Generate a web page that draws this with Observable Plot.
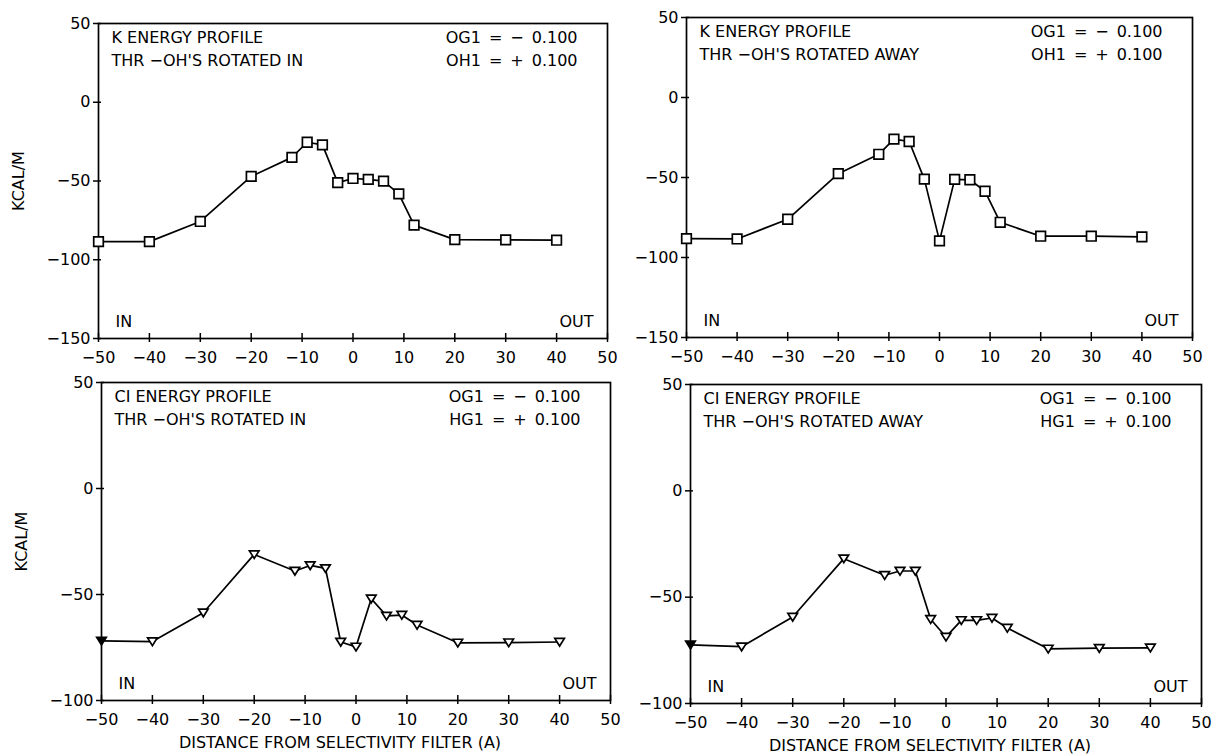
<!DOCTYPE html>
<html><head><meta charset="utf-8">
<script src="https://cdn.jsdelivr.net/npm/d3@7"></script>
<script src="https://cdn.jsdelivr.net/npm/@observablehq/plot@0.6"></script>
<style>
body{margin:0;background:#fff;}
#wrap{position:relative;width:1212px;height:756px;overflow:hidden;background:#fff;}
#wrap svg{position:absolute;}
</style></head><body><div id="wrap"></div>
<script>
// ---- data ----
const distance = [-50, -40, -30, -20, -12, -9, -6, -3, 0, 3, 6, 9, 12, 20, 30, 40];
const kRotatedIn   = [-88.5, -88.5, -75.7, -47.1, -35.0, -25.4, -27.1, -51.0, -48.4, -49.0, -50.1, -58.2, -78.0, -87.2, -87.4, -87.6];
const kRotatedAway = [-88.2, -88.4, -76.1, -47.6, -35.5, -26.0, -27.5, -51.0, -89.6, -51.2, -51.4, -58.6, -78.0, -86.7, -86.7, -87.1];
const clRotatedIn  = [-71.9, -72.2, -58.6, -31.1, -38.9, -36.3, -37.7, -72.4, -74.7, -52.0, -60.1, -59.7, -64.4, -72.8, -72.7, -72.4];
const clRotatedAway= [-72.4, -73.3, -59.3, -31.9, -39.7, -37.7, -37.7, -60.4, -68.7, -60.9, -60.9, -59.8, -64.5, -74.3, -74.0, -73.8];

const xTicks = [-50, -40, -30, -20, -10, 0, 10, 20, 30, 40, 50];
const yTicksK = [50, 0, -50, -100, -150];
const yTicksCl = [50, 0, -50, -100];

const titlesLeft = [
  ["K ENERGY PROFILE", "THR \u2212OH'S ROTATED IN"],
  ["K ENERGY PROFILE", "THR \u2212OH'S ROTATED AWAY"],
  ["CI ENERGY PROFILE", "THR \u2212OH'S ROTATED IN"],
  ["CI ENERGY PROFILE", "THR \u2212OH'S ROTATED AWAY"]
];
const titlesRight = [
  ["OG1\u2002=\u2002\u2212\u20020.100", "OH1\u2002=\u2002+\u20020.100"],
  ["OG1\u2002=\u2002\u2212\u20020.100", "OH1\u2002=\u2002+\u20020.100"],
  ["OG1\u2002=\u2002\u2212\u20020.100", "HG1\u2002=\u2002+\u20020.100"],
  ["OG1\u2002=\u2002\u2212\u20020.100", "HG1\u2002=\u2002+\u20020.100"]
];
const inLabel = "IN";
const outLabel = "OUT";
const yTitle = "KCAL/M";
const xTitle = "DISTANCE FROM SELECTIVITY FILTER (A)";

// ---- layout / styles ----
const triangleDown = {
  draw(ctx, size) {
    const r = Math.sqrt(size / Math.PI);
    ctx.moveTo(-r, -0.75 * r);
    ctx.lineTo(r, -0.75 * r);
    ctx.lineTo(0, 0.85 * r);
    ctx.closePath();
  }
};

const panels = [
  {values: kRotatedIn, symbol: "square", r: 5.4, firstFill: "white", yDomain: [-150, 50], yTicks: yTicksK,
   left: 0, top: 0, width: 630, height: 372, mL: 98, mR: 23, mT: 23, mB: 34, yTitle: true, xTitle: false},
  {values: kRotatedAway, symbol: "square", r: 5.4, firstFill: "white", yDomain: [-150, 50], yTicks: yTicksK,
   left: 630, top: 0, width: 582, height: 372, mL: 56, mR: 20, mT: 17, mB: 35, yTitle: false, xTitle: false},
  {values: clRotatedIn, symbol: triangleDown, r: 4.8, firstFill: "black", yDomain: [-100, 50], yTicks: yTicksCl,
   left: 0, top: 372, width: 630, height: 384, mL: 101, mR: 20, mT: 10, mB: 56, yTitle: true, xTitle: true},
  {values: clRotatedAway, symbol: triangleDown, r: 4.8, firstFill: "black", yDomain: [-100, 50], yTicks: yTicksCl,
   left: 630, top: 372, width: 582, height: 384, mL: 60, mR: 11, mT: 12, mB: 53, yTitle: false, xTitle: true}
];

const wrap = document.getElementById("wrap");

panels.forEach((p, i) => {
  const data = distance.map((d, j) => ({x: d, y: p.values[j], first: j === 0}));
  const y0 = p.yDomain[0];
  const marks = [
    Plot.frame({stroke: "black", strokeWidth: 1.7}),
    Plot.ruleX(xTicks, {x: d => d, y1: y0, y2: y0, insetTop: -5, insetBottom: -4, stroke: "black", strokeWidth: 1.5}),
    Plot.ruleY(p.yTicks, {y: d => d, x1: -50, x2: -50, insetLeft: -5, insetRight: -3, stroke: "black", strokeWidth: 1.5}),
    Plot.axisX({ticks: xTicks, tickSize: 0, tickPadding: 13, label: null, fill: "black"}),
    Plot.axisY({ticks: p.yTicks, tickSize: 0, tickPadding: 8, label: null, fill: "black"}),
    Plot.line(data, {x: "x", y: "y", stroke: "black", strokeWidth: 1.7}),
    Plot.dot(data, {x: "x", y: "y", symbol: p.symbol, r: p.r, stroke: "black", strokeWidth: 1.7,
                    fill: d => d.first ? p.firstFill : "white"}),
    Plot.text([titlesLeft[i].join("\n")], {frameAnchor: "top-left", textAnchor: "start", lineAnchor: "top", dx: 13, dy: 3, lineHeight: 1.45, fill: "black"}),
    Plot.text([titlesRight[i].join("\n")], {frameAnchor: "top-right", textAnchor: "end", lineAnchor: "top", dx: -30, dy: 3, lineHeight: 1.45, fill: "black"}),
    Plot.text([inLabel], {frameAnchor: "bottom-left", textAnchor: "start", lineAnchor: "middle", dx: 17, dy: -17, fill: "black"}),
    Plot.text([outLabel], {frameAnchor: "bottom-right", textAnchor: "end", lineAnchor: "middle", dx: -14, dy: -17, fill: "black"})
  ];
  if (p.yTitle) {
    marks.push(Plot.text([yTitle], {frameAnchor: "left", textAnchor: "middle", lineAnchor: "middle", rotate: -90, dx: -80, fill: "black"}));
  }
  if (p.xTitle) {
    marks.push(Plot.text([xTitle], {frameAnchor: "bottom", textAnchor: "middle", lineAnchor: "middle", dx: -16, dy: 42, fill: "black"}));
  }
  const svg = Plot.plot({
    width: p.width,
    height: p.height,
    marginLeft: p.mL, marginRight: p.mR, marginTop: p.mT, marginBottom: p.mB,
    x: {domain: [-50, 50]},
    y: {domain: p.yDomain},
    style: {fontFamily: "DejaVu Sans", fontSize: "16px", background: "transparent", overflow: "visible", color: "black"},
    marks
  });
  svg.style.left = p.left + "px";
  svg.style.top = p.top + "px";
  wrap.appendChild(svg);
});
</script>
</body></html>
